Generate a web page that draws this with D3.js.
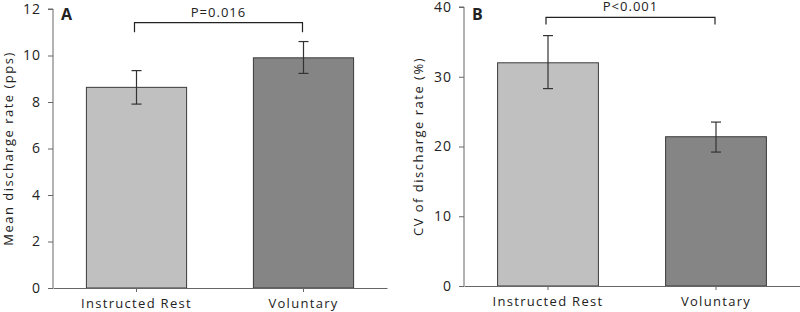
<!DOCTYPE html>
<html>
<head>
<meta charset="utf-8">
<script src="https://cdn.jsdelivr.net/npm/d3@7"></script>
<style>
  body { margin: 0; background: #fff; }
  svg text { font-family: "Open Sans", sans-serif; fill: #222; }
</style>
</head>
<body>
<div id="chart"></div>
<script>
const categories = ["Instructed Rest", "Voluntary"];

// panel A: mean discharge rate (pps)
const rateMean = [8.63, 9.9];
const rateLow = [7.91, 9.23];
const rateHigh = [9.35, 10.6];
const rateTicks = [0, 2, 4, 6, 8, 10, 12];

// panel B: CV of discharge rate (%)
const cvMean = [32.0, 21.4];
const cvLow = [28.3, 19.2];
const cvHigh = [35.9, 23.5];
const cvTicks = [0, 10, 20, 30, 40];

const barColors = ["#c0c0c0", "#858585"];

const svg = d3.select("#chart")
  .append("svg")
  .attr("width", 800)
  .attr("height", 312);

function drawPanel(opts) {
  const g = svg.append("g");

  const x = d3.scaleBand()
    .domain(categories)
    .range([opts.left, opts.right])
    .paddingInner(0.4)
    .paddingOuter(0.2);
  const y = d3.scaleLinear()
    .domain([0, opts.max])
    .range([opts.bottom, opts.top]);

  // bars
  g.selectAll(".bar")
    .data(categories)
    .enter().append("rect")
    .attr("x", d => x(d))
    .attr("y", (d, i) => y(opts.mean[i]))
    .attr("width", x.bandwidth())
    .attr("height", (d, i) => y(0) - y(opts.mean[i]))
    .attr("fill", (d, i) => barColors[i])
    .attr("stroke", "#3a3a3a")
    .attr("stroke-width", 1);

  // error bars
  const eb = g.selectAll(".err")
    .data(categories)
    .enter().append("g")
    .attr("stroke", "#333")
    .attr("stroke-width", 1.2);
  eb.append("line")
    .attr("x1", d => x(d) + x.bandwidth() / 2)
    .attr("x2", d => x(d) + x.bandwidth() / 2)
    .attr("y1", (d, i) => y(opts.low[i]))
    .attr("y2", (d, i) => y(opts.high[i]));
  [opts.low, opts.high].forEach(arr => {
    eb.append("line")
      .attr("x1", d => x(d) + x.bandwidth() / 2 - 5)
      .attr("x2", d => x(d) + x.bandwidth() / 2 + 5)
      .attr("y1", (d, i) => y(arr[i]))
      .attr("y2", (d, i) => y(arr[i]));
  });

  // axes
  const yAxis = g.append("g")
    .attr("transform", `translate(${opts.left},0)`)
    .call(d3.axisLeft(y).tickValues(opts.ticks).tickSize(5).tickPadding(7));
  const xAxis = g.append("g")
    .attr("transform", `translate(0,${opts.bottom})`)
    .call(d3.axisBottom(x).tickSize(4).tickSizeOuter(0));
  [yAxis, xAxis].forEach(ax => {
    ax.select(".domain").attr("stroke", "#666");
    ax.selectAll(".tick line").attr("stroke", "#666");
    ax.selectAll("text")
      .attr("font-size", 14)
      .attr("fill", "#1a1a1a")
      .style("letter-spacing", "1px");
  });
  yAxis.select(".domain").attr("d", `M-5,${opts.top}H0V${opts.bottom}`);
  xAxis.selectAll("text")
    .attr("y", 20)
    .attr("dy", 0)
    .attr("font-size", 13)
    .style("letter-spacing", "1.3px");

  // y label
  g.append("text")
    .attr("transform", `translate(${opts.labelX},${(opts.top + opts.bottom) / 2}) rotate(-90)`)
    .attr("text-anchor", "middle")
    .attr("font-size", 13)
    .style("letter-spacing", "1.5px")
    .text(opts.yLabel);

  // panel letter
  g.append("text")
    .attr("x", opts.left + 8)
    .attr("y", 20)
    .attr("font-size", 16)
    .attr("font-weight", "bold")
    .attr("font-family", "Liberation Sans, Arial, sans-serif")
    .text(opts.letter);

  // significance bracket
  const bx1 = x(categories[0]) + x.bandwidth() / 2 - 2;
  const bx2 = x(categories[1]) + x.bandwidth() / 2 - 1;
  const by = y(opts.bracket[1]);
  const byLeg = y(opts.bracket[0]);
  g.append("path")
    .attr("d", `M${bx1},${byLeg}V${by}H${bx2}V${byLeg}`)
    .attr("fill", "none")
    .attr("stroke", "#222")
    .attr("stroke-width", 1.2);
  g.append("text")
    .attr("x", (bx1 + bx2) / 2)
    .attr("y", by - 6)
    .attr("text-anchor", "middle")
    .attr("font-size", 13)
    .style("letter-spacing", "1px")
    .text(opts.pText);
}

drawPanel({
  left: 53, right: 387, top: 9, bottom: 288, max: 12,
  mean: rateMean, low: rateLow, high: rateHigh, ticks: rateTicks,
  yLabel: "Mean discharge rate (pps)", labelX: 13, letter: "A",
  bracket: [11.0, 11.41], pText: "P=0.016"
});

drawPanel({
  left: 464, right: 800, top: 7, bottom: 286, max: 40,
  mean: cvMean, low: cvLow, high: cvHigh, ticks: cvTicks,
  yLabel: "CV of discharge rate (%)", labelX: 423, letter: "B",
  bracket: [37.5, 38.5], pText: "P<0.001"
});
</script>
</body>
</html>
